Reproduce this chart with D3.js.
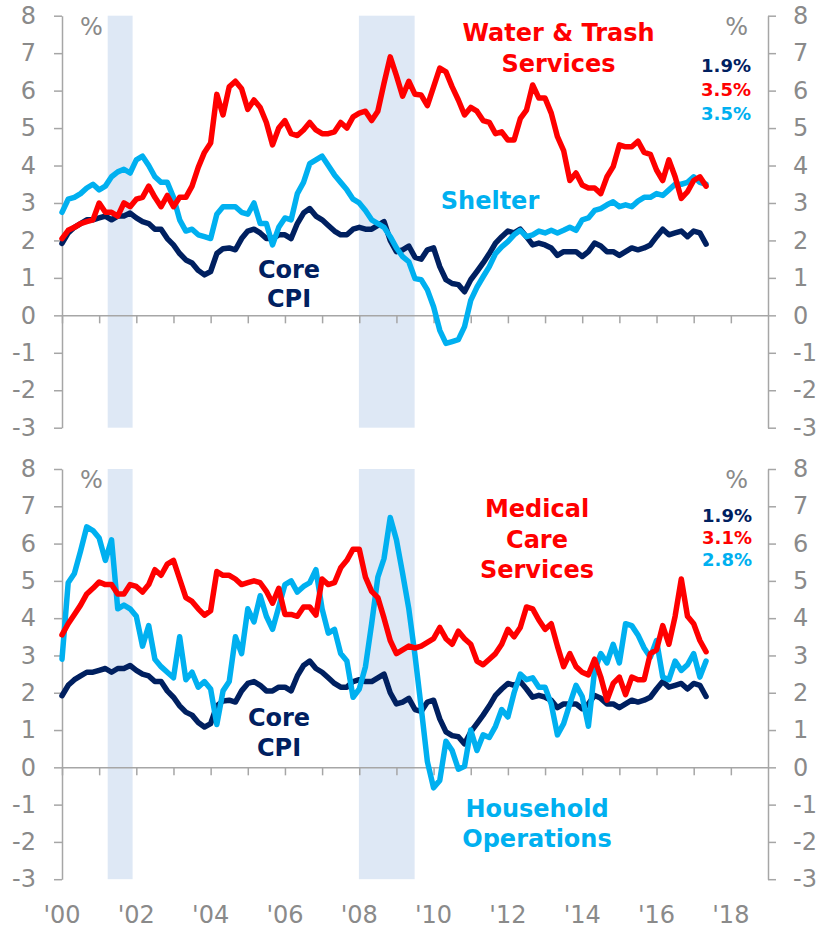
<!DOCTYPE html>
<html>
<head>
<meta charset="utf-8">
<script src="https://cdn.jsdelivr.net/npm/d3@7/dist/d3.min.js"></script>
<style>
  html, body { margin: 0; padding: 0; background: #fff; }
  svg { display: block; font-family: Verdana, "DejaVu Sans", sans-serif; }
</style>
</head>
<body>
<svg id="chart" width="823" height="927"></svg>
<script>
// ---- DATA (bimonthly observations, Jan 2000 .. May 2017) ----
const months = d3.range(105).map(i => 2000 + i / 6);

const coreCPI = [
  1.92, 2.2, 2.35, 2.45, 2.55, 2.55,
  2.6, 2.65, 2.55, 2.65, 2.65, 2.73,
  2.6, 2.5, 2.45, 2.3, 2.3, 2.05,
  1.88, 1.65, 1.48, 1.4, 1.2, 1.08,
  1.17, 1.65, 1.78, 1.8, 1.75, 2.05,
  2.25, 2.3, 2.2, 2.05, 2.05, 2.15,
  2.15, 2.05, 2.45, 2.73, 2.85, 2.65,
  2.55, 2.4, 2.25, 2.15, 2.15, 2.3,
  2.35, 2.3, 2.3, 2.4, 2.5, 2.0,
  1.7, 1.75, 1.85, 1.55, 1.5, 1.75,
  1.8, 1.3, 0.95, 0.85, 0.82, 0.63,
  0.95, 1.17, 1.4, 1.65, 1.93, 2.1,
  2.25, 2.2, 2.3, 2.1, 1.88, 1.93,
  1.88, 1.8, 1.6, 1.7, 1.7, 1.7,
  1.57, 1.7, 1.93, 1.85, 1.7, 1.7,
  1.6, 1.7, 1.8, 1.75, 1.8, 1.88,
  2.1, 2.3, 2.15, 2.2, 2.25, 2.1,
  2.25, 2.2, 1.9
];

const shelter = [
  2.75, 3.1, 3.15, 3.25, 3.4, 3.5,
  3.35, 3.45, 3.7, 3.83, 3.9, 3.8,
  4.15, 4.25, 4.0, 3.7, 3.55, 3.55,
  3.15, 2.55, 2.25, 2.3, 2.15, 2.1,
  2.05, 2.7, 2.9, 2.9, 2.9, 2.75,
  2.7, 3.0, 2.45, 2.45, 1.88, 2.35,
  2.6, 2.55, 3.25, 3.55, 4.05, 4.15,
  4.25, 4.0, 3.75, 3.55, 3.35, 3.1,
  3.0, 2.8, 2.55, 2.45, 2.35, 2.1,
  1.8, 1.57, 1.43, 0.98, 0.95, 0.68,
  0.23, -0.4, -0.75, -0.7, -0.65, -0.3,
  0.4, 0.75, 1.03, 1.3, 1.65, 1.83,
  1.97, 2.15, 2.27, 2.1, 2.15, 2.25,
  2.2, 2.27, 2.2, 2.27, 2.35, 2.27,
  2.55, 2.6, 2.8, 2.85, 2.95, 3.03,
  2.9, 2.95, 2.9, 3.05, 3.15, 3.15,
  3.25, 3.2, 3.35, 3.5, 3.5, 3.55,
  3.7, 3.55, 3.5
];

const waterTrash = [
  2.05, 2.27, 2.35, 2.45, 2.5, 2.55,
  3.0, 2.75, 2.75, 2.65, 3.0, 2.9,
  3.1, 3.15, 3.45, 3.15, 2.9, 3.2,
  2.9, 3.15, 3.15, 3.45, 3.95, 4.35,
  4.6, 5.9, 5.35, 6.1, 6.25, 6.05,
  5.5, 5.75, 5.55, 5.15, 4.55, 5.0,
  5.2, 4.85, 4.8, 4.95, 5.15, 4.95,
  4.85, 4.85, 4.9, 5.15, 5.0, 5.3,
  5.4, 5.45, 5.2, 5.45, 6.2, 6.9,
  6.4, 5.85, 6.25, 5.9, 5.88, 5.6,
  6.1, 6.6, 6.5, 6.1, 5.75, 5.35,
  5.55, 5.45, 5.2, 5.15, 4.85, 4.9,
  4.68, 4.68, 5.25, 5.48, 6.15, 5.8,
  5.8, 5.4, 4.77, 4.4, 3.6, 3.8,
  3.48, 3.4, 3.4, 3.25, 3.7, 3.97,
  4.55, 4.5, 4.5, 4.65, 4.35, 4.3,
  3.88, 3.6, 4.15, 3.7, 3.12, 3.3,
  3.6, 3.7, 3.45
];

const medicalCare = [
  3.55, 3.85, 4.1, 4.35, 4.65, 4.8,
  4.97, 4.9, 4.9, 4.65, 4.65, 4.9,
  4.85, 4.7, 4.9, 5.3, 5.15, 5.45,
  5.55, 5.05, 4.55, 4.45, 4.25, 4.08,
  4.2, 5.25, 5.15, 5.15, 5.05, 4.9,
  4.95, 5.0, 4.95, 4.72, 4.4, 4.8,
  4.1, 4.1, 4.05, 4.3, 4.3, 4.08,
  5.05, 4.9, 4.95, 5.35, 5.55, 5.85,
  5.85, 5.1, 4.72, 4.55, 4.0, 3.4,
  3.05, 3.15, 3.25, 3.2, 3.25, 3.35,
  3.45, 3.75, 3.45, 3.3, 3.65, 3.45,
  3.3, 2.85, 2.75, 2.9, 3.05, 3.3,
  3.7, 3.5, 3.75, 4.3, 4.25, 3.95,
  3.7, 3.85, 3.25, 2.7, 3.05, 2.7,
  2.55, 2.48, 2.9, 2.42, 1.8, 2.25,
  2.42, 1.95, 2.42, 2.35, 2.35, 3.05,
  3.15, 3.8, 3.3, 4.05, 5.05, 4.05,
  3.85, 3.4, 3.1
];

const householdOps = [
  2.9, 4.95, 5.2, 5.8, 6.45, 6.35,
  6.15, 5.55, 6.1, 4.25, 4.35, 4.25,
  4.05, 3.25, 3.8, 2.9, 2.7, 2.55,
  2.4, 3.5, 2.35, 2.55, 2.15, 2.3,
  2.1, 1.15, 2.05, 2.3, 3.5, 3.05,
  4.25, 3.9, 4.6, 4.05, 3.7, 4.3,
  4.9, 5.0, 4.7, 4.85, 4.95, 5.3,
  4.25, 3.6, 3.7, 3.05, 2.85, 1.88,
  2.1, 2.7, 3.85, 5.1, 5.6, 6.7,
  6.1, 5.2, 4.25, 3.0, 1.6, 0.15,
  -0.55, -0.35, 0.7, 0.45, -0.05, 0.03,
  1.0, 0.45, 0.87, 0.8, 1.1, 1.55,
  1.35, 2.0, 2.5, 2.35, 2.4, 2.15,
  2.15, 1.7, 0.87, 1.17, 1.7, 2.2,
  1.9, 1.1, 2.6, 3.05, 2.8, 3.3,
  2.8, 3.85, 3.8, 3.55, 3.2, 2.95,
  3.4, 2.42, 2.35, 2.85, 2.6, 2.75,
  3.05, 2.42, 2.85
];

const recessionStart = [2001.23, 2007.99];
const recessionEnd = [2001.9, 2009.49];
const yTicks = [-3, -2, -1, 0, 1, 2, 3, 4, 5, 6, 7, 8];
const xTickYears = d3.range(2000, 2019);
const xLabelYears = [2000, 2002, 2004, 2006, 2008, 2010, 2012, 2014, 2016, 2018];
const xLabels = ["'00", "'02", "'04", "'06", "'08", "'10", "'12", "'14", "'16", "'18"];

const topLatest = ["1.9%", "3.5%", "3.5%"];
const bottomLatest = ["1.9%", "3.1%", "2.8%"];

// ---- STYLE ----
const NAVY = "#002060", RED = "#ff0000", CYAN = "#00b0f0";
const GRAY_TEXT = "#8a8a8a", GRAY_AXIS = "#a6a6a6", SHADE = "#dee8f5";

const svg = d3.select("#chart");
const x = d3.scaleLinear().domain([2000, 2019]).range([62, 768]);
const fmt = d => String(d); // plain hyphen-minus

function panel(cfg) {
  const y = d3.scaleLinear().domain([-3, 8]).range([cfg.bottom, cfg.top]);
  const g = svg.append("g");

  // recession shading
  g.selectAll("rect.rec").data(recessionStart).join("rect")
    .attr("x", (d) => x(d))
    .attr("width", (d, i) => x(recessionEnd[i]) - x(d))
    .attr("y", y(8)).attr("height", y(-3) - y(8))
    .attr("fill", SHADE);

  const la = g.append("g").attr("transform", `translate(${x(2000)},0)`)
    .call(d3.axisLeft(y).tickValues(yTicks).tickFormat(fmt)
      .tickSize(8).tickSizeOuter(0).tickPadding(18));
  const ra = g.append("g").attr("transform", `translate(${x(2019)},0)`)
    .call(d3.axisRight(y).tickValues(yTicks).tickFormat(fmt)
      .tickSize(8).tickSizeOuter(0).tickPadding(17));
  const xa = g.append("g").attr("transform", `translate(0,${y(0)})`)
    .call(d3.axisBottom(x).tickValues(xTickYears).tickFormat("")
      .tickSize(8).tickSizeOuter(0));

  [la, ra, xa].forEach(a => {
    a.selectAll("path.domain").attr("stroke", GRAY_AXIS).attr("stroke-width", 1.5);
    a.selectAll(".tick line").attr("stroke", GRAY_AXIS).attr("stroke-width", 1.5);
    a.selectAll(".tick text").attr("fill", GRAY_TEXT)
      .style("font-size", "24px").style("font-family", 'Verdana, "DejaVu Sans", sans-serif');
  });

  g.append("text").attr("x", 80).attr("y", cfg.top + 19).text("%")
    .attr("fill", GRAY_TEXT).style("font-size", "24px");
  g.append("text").attr("x", 748).attr("y", cfg.top + 19).attr("text-anchor", "end").text("%")
    .attr("fill", GRAY_TEXT).style("font-size", "24px");

  const line = d3.line().x((d, i) => x(months[i])).y(d => y(d)).curve(d3.curveLinear);
  cfg.series.forEach(s => {
    g.append("path").datum(s.values)
      .attr("d", line).attr("fill", "none")
      .attr("stroke", s.color).attr("stroke-width", 5.5)
      .attr("stroke-linejoin", "round").attr("stroke-linecap", "round");
  });

  cfg.labels.forEach(l => {
    const t = g.append("text").attr("text-anchor", l.anchor || "middle")
      .attr("fill", l.color).style("font-weight", "bold").style("font-size", l.size + "px");
    l.lines.forEach((txt, k) => {
      t.append("tspan").attr("x", l.x).attr("y", l.y + k * l.lh).text(txt);
    });
  });
  return y;
}

panel({
  top: 15.7, bottom: 427.7,
  series: [
    { values: coreCPI, color: NAVY },
    { values: shelter, color: CYAN },
    { values: waterTrash, color: RED }
  ],
  labels: [
    { lines: ["Water & Trash", "Services"], x: 558.5, y: 41, lh: 31, color: RED, size: 24 },
    { lines: ["Shelter"], x: 490, y: 208.5, lh: 0, color: CYAN, size: 24 },
    { lines: ["Core", "CPI"], x: 289, y: 277.5, lh: 29.5, color: NAVY, size: 24 },
    { lines: [topLatest[0]], x: 751, y: 72, lh: 0, color: NAVY, size: 18, anchor: "end" },
    { lines: [topLatest[1]], x: 751, y: 95.5, lh: 0, color: RED, size: 18, anchor: "end" },
    { lines: [topLatest[2]], x: 751, y: 119.5, lh: 0, color: CYAN, size: 18, anchor: "end" }
  ]
});

panel({
  top: 469, bottom: 879.2,
  series: [
    { values: coreCPI, color: NAVY },
    { values: householdOps, color: CYAN },
    { values: medicalCare, color: RED }
  ],
  labels: [
    { lines: ["Medical", "Care", "Services"], x: 537, y: 517, lh: 30.5, color: RED, size: 24 },
    { lines: ["Household", "Operations"], x: 537, y: 817, lh: 30, color: CYAN, size: 24 },
    { lines: ["Core", "CPI"], x: 279, y: 726, lh: 29.5, color: NAVY, size: 24 },
    { lines: [bottomLatest[0]], x: 752, y: 522, lh: 0, color: NAVY, size: 18, anchor: "end" },
    { lines: [bottomLatest[1]], x: 752, y: 543.5, lh: 0, color: RED, size: 18, anchor: "end" },
    { lines: [bottomLatest[2]], x: 752, y: 566, lh: 0, color: CYAN, size: 18, anchor: "end" }
  ]
});

svg.append("g").selectAll("text").data(xLabelYears).join("text")
  .attr("x", d => x(d)).attr("y", 922.5).attr("text-anchor", "middle")
  .attr("fill", GRAY_TEXT).style("font-size", "24px")
  .text((d, i) => xLabels[i]);
</script>
</body>
</html>
